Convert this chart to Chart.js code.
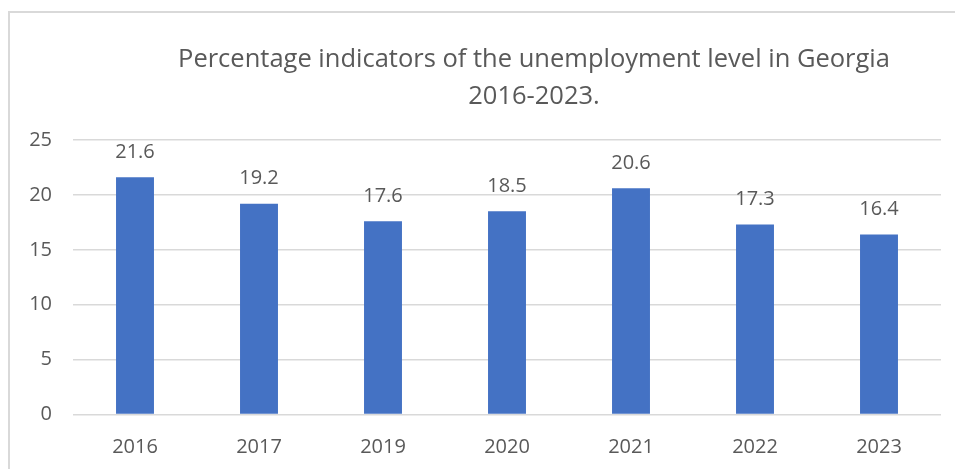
<!DOCTYPE html>
<html>
<head>
<meta charset="utf-8">
<script src="https://cdn.jsdelivr.net/npm/chart.js@4.4.1/dist/chart.umd.min.js"></script>
<style>
  html, body { margin: 0; padding: 0; background: #fff; }
  #wrap { position: relative; width: 955px; height: 469px; overflow: hidden; }
  #frame { position: absolute; left: 8px; top: 11px; width: 1000px; height: 500px;
           border-left: 2px solid #d9d9d9; border-top: 2px solid #d9d9d9; }
  canvas { position: absolute; left: 0; top: 0; }
</style>
</head>
<body>
<div id="wrap">
  <div id="frame"></div>
  <canvas id="c" width="955" height="469"></canvas>
</div>
<script>
const categories = ["2016", "2017", "2019", "2020", "2021", "2022", "2023"];
const values = [21.6, 19.2, 17.6, 18.5, 20.6, 17.3, 16.4];
const titleLines = ["Percentage indicators of the unemployment level in Georgia", "2016-2023."];
const yTicks = [0, 5, 10, 15, 20, 25];

const TEXT = "#595959";
const FONT = "'Open Sans', sans-serif";

const valueLabels = {
  id: "valueLabels",
  afterDatasetsDraw(chart) {
    const ctx = chart.ctx;
    const meta = chart.getDatasetMeta(0);
    ctx.save();
    ctx.fillStyle = TEXT;
    ctx.font = "20px " + FONT;
    ctx.textAlign = "center";
    ctx.textBaseline = "middle";
    meta.data.forEach((bar, i) => {
      ctx.fillText(values[i].toFixed(1), bar.x, bar.y - 25);
    });
    ctx.restore();
  }
};

const titlePlugin = {
  id: "titleText",
  afterDraw(chart) {
    const ctx = chart.ctx;
    ctx.save();
    ctx.fillStyle = TEXT;
    ctx.font = "25.5px " + FONT;
    ctx.textAlign = "center";
    ctx.textBaseline = "middle";
    ctx.fillText(titleLines[0], 534, 60);
    ctx.fillText(titleLines[1], 534, 97);
    ctx.restore();
  }
};

new Chart(document.getElementById("c"), {
  type: "bar",
  data: {
    labels: categories,
    datasets: [{
      data: values,
      backgroundColor: "#4472C4",
      borderWidth: 0,
      barPercentage: 0.612,
      categoryPercentage: 0.5
    }]
  },
  options: {
    responsive: false,
    animation: false,
    devicePixelRatio: 1,
    layout: { padding: { left: 0, right: 14, top: 140, bottom: 0 } },
    plugins: { legend: { display: false }, tooltip: { enabled: false }, title: { display: false } },
    scales: {
      x: {
        grid: { display: false, drawTicks: false },
        border: { display: false },
        ticks: { color: TEXT, font: { family: FONT, size: 20 }, padding: 21 },
        afterFit(scale) { scale.height = 54.5; }
      },
      y: {
        min: 0, max: 25,
        afterBuildTicks(scale) { scale.ticks = yTicks.map(v => ({ value: v })); },
        grid: { color: "#d9d9d9", lineWidth: 1.5, drawTicks: false },
        border: { display: false },
        ticks: { color: TEXT, font: { family: FONT, size: 20 }, padding: 21 },
        afterFit(scale) { scale.width = 73; }
      }
    }
  },
  plugins: [valueLabels, titlePlugin]
});
</script>
</body>
</html>
